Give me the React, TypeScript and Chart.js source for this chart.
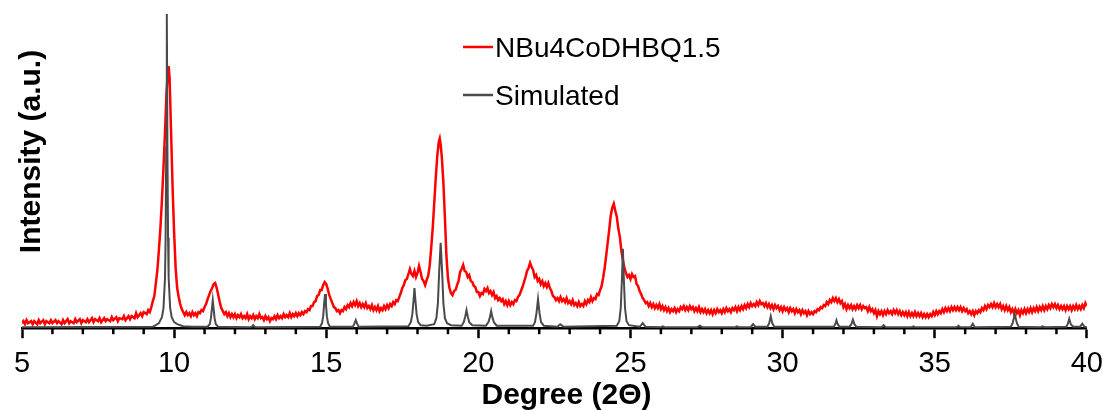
import React, { useEffect, useRef } from "react";
import { Chart, registerables } from "chart.js";

Chart.register(...registerables);

const seriesNames = ["NBu4CoDHBQ1.5", "Simulated"];
const seriesColors = ["#ff0000", "#4a4a4a"];
const xTitle = "Degree (2\u0398)";
const yTitle = "Intensity (a.u.)";
const majorTicks = [5, 10, 15, 20, 25, 30, 35, 40];

// experimental pattern [2θ, intensity]
const experimental: [number, number][] = [
  [5.0, 5], [5.05, 7], [5.1, 4], [5.15, 8], [5.2, 5], [5.3, 7], [5.35, 4], [5.4, 7], [5.5, 4], [5.55, 8],
  [5.6, 5], [5.7, 8], [5.75, 4], [5.8, 7], [5.9, 5], [5.95, 8], [6.0, 5], [6.1, 8], [6.15, 5], [6.2, 7],
  [6.3, 4], [6.35, 8], [6.4, 5], [6.5, 9], [6.55, 5], [6.6, 7], [6.7, 5], [6.75, 9], [6.8, 6], [6.9, 9],
  [6.95, 5], [7.0, 8], [7.1, 6], [7.15, 9], [7.2, 6], [7.3, 10], [7.35, 6], [7.4, 9], [7.5, 7], [7.55, 10],
  [7.6, 6], [7.7, 10], [7.75, 7], [7.8, 9], [7.9, 7], [7.95, 11], [8.0, 8], [8.1, 11], [8.15, 7], [8.2, 10],
  [8.3, 9], [8.35, 12], [8.4, 8], [8.5, 12], [8.55, 9], [8.6, 12], [8.7, 10], [8.75, 15], [8.8, 11],
  [8.9, 15], [8.95, 12], [9.0, 16], [9.1, 14], [9.15, 18], [9.2, 16], [9.25, 21], [9.3, 27], [9.35, 32],
  [9.4, 45], [9.45, 58], [9.5, 78], [9.55, 100], [9.6, 128], [9.65, 160], [9.7, 195], [9.75, 235],
  [9.8, 258], [9.82, 261], [9.85, 250], [9.9, 195], [9.95, 140], [10.0, 95], [10.05, 60], [10.1, 40],
  [10.15, 31], [10.2, 24], [10.25, 19], [10.3, 16], [10.35, 13], [10.4, 16], [10.45, 13], [10.5, 15],
  [10.55, 12], [10.6, 16], [10.65, 13], [10.7, 15], [10.75, 12], [10.8, 16], [10.85, 15], [10.9, 18],
  [10.95, 17], [11.0, 21], [11.05, 24], [11.1, 29], [11.15, 33], [11.2, 37], [11.25, 40], [11.3, 44],
  [11.35, 45], [11.4, 40], [11.45, 33], [11.5, 26], [11.55, 20], [11.6, 17], [11.65, 14], [11.7, 16],
  [11.75, 12], [11.8, 15], [11.85, 11], [11.9, 14], [11.95, 11], [12.0, 14], [12.05, 10], [12.1, 13],
  [12.15, 11], [12.2, 14], [12.25, 10], [12.3, 12], [12.35, 10], [12.4, 14], [12.45, 9], [12.5, 12],
  [12.55, 10], [12.6, 13], [12.65, 9], [12.7, 12], [12.75, 10], [12.8, 14], [12.85, 10], [12.9, 11],
  [12.95, 8], [13.0, 12], [13.05, 9], [13.1, 11], [13.15, 7], [13.2, 10], [13.25, 9], [13.3, 12],
  [13.35, 9], [13.4, 13], [13.45, 10], [13.5, 12], [13.55, 10], [13.6, 14], [13.65, 11], [13.7, 13],
  [13.75, 11], [13.8, 15], [13.85, 11], [13.9, 14], [13.95, 12], [14.0, 15], [14.05, 12], [14.1, 15],
  [14.15, 13], [14.2, 16], [14.25, 14], [14.3, 17], [14.35, 16], [14.4, 19], [14.45, 18], [14.5, 22],
  [14.55, 22], [14.6, 26], [14.65, 27], [14.7, 32], [14.75, 33], [14.8, 38], [14.85, 38], [14.9, 43],
  [14.95, 46], [15.0, 44], [15.05, 39], [15.1, 33], [15.15, 29], [15.2, 25], [15.25, 21], [15.3, 20],
  [15.35, 17], [15.4, 18], [15.45, 15], [15.5, 18], [15.55, 17], [15.6, 21], [15.65, 19], [15.7, 23],
  [15.75, 21], [15.8, 25], [15.85, 22], [15.9, 26], [15.95, 23], [16.0, 27], [16.05, 22], [16.1, 25],
  [16.15, 21], [16.2, 24], [16.25, 21], [16.3, 25], [16.35, 20], [16.4, 22], [16.45, 19], [16.5, 23],
  [16.55, 18], [16.6, 21], [16.65, 18], [16.7, 22], [16.75, 17], [16.8, 20], [16.85, 18], [16.9, 22],
  [16.95, 19], [17.0, 23], [17.05, 20], [17.1, 24], [17.15, 22], [17.2, 26], [17.25, 24], [17.3, 28],
  [17.35, 27], [17.4, 31], [17.45, 35], [17.5, 40], [17.55, 43], [17.6, 48], [17.65, 49], [17.7, 54],
  [17.75, 59], [17.8, 54], [17.85, 52], [17.9, 57], [17.95, 51], [18.0, 55], [18.05, 62], [18.1, 56],
  [18.15, 49], [18.2, 47], [18.25, 43], [18.3, 48], [18.35, 52], [18.4, 62], [18.45, 80], [18.5, 100],
  [18.55, 125], [18.6, 150], [18.65, 172], [18.7, 186], [18.73, 189], [18.76, 183], [18.8, 170],
  [18.85, 145], [18.9, 110], [18.95, 72], [19.0, 50], [19.05, 40], [19.1, 35], [19.15, 33], [19.2, 37],
  [19.25, 38], [19.3, 43], [19.35, 47], [19.4, 56], [19.45, 59], [19.5, 63], [19.55, 57], [19.6, 56],
  [19.65, 51], [19.7, 53], [19.75, 47], [19.8, 46], [19.85, 42], [19.9, 41], [19.95, 36], [20.0, 36],
  [20.05, 32], [20.1, 35], [20.15, 34], [20.2, 39], [20.25, 37], [20.3, 40], [20.35, 35], [20.4, 37],
  [20.45, 33], [20.5, 36], [20.55, 30], [20.6, 32], [20.65, 28], [20.7, 30], [20.75, 27], [20.8, 29],
  [20.85, 24], [20.9, 27], [20.95, 23], [21.0, 27], [21.05, 23], [21.1, 26], [21.15, 24], [21.2, 28],
  [21.25, 27], [21.3, 31], [21.35, 33], [21.4, 37], [21.45, 41], [21.5, 46], [21.55, 51], [21.6, 57],
  [21.65, 60], [21.7, 65], [21.75, 61], [21.8, 58], [21.85, 51], [21.9, 53], [21.95, 47], [22.0, 49],
  [22.05, 44], [22.1, 47], [22.15, 42], [22.2, 45], [22.25, 41], [22.3, 45], [22.35, 40], [22.4, 37],
  [22.45, 32], [22.5, 31], [22.55, 28], [22.6, 30], [22.65, 27], [22.7, 31], [22.75, 27], [22.8, 29],
  [22.85, 26], [22.9, 30], [22.95, 25], [23.0, 27], [23.05, 24], [23.1, 28], [23.15, 23], [23.2, 25],
  [23.25, 22], [23.3, 26], [23.35, 22], [23.4, 24], [23.45, 22], [23.5, 27], [23.55, 24], [23.6, 28],
  [23.65, 26], [23.7, 31], [23.75, 27], [23.8, 30], [23.85, 29], [23.9, 34], [23.95, 33], [24.0, 38],
  [24.05, 42], [24.1, 50], [24.15, 60], [24.2, 72], [24.25, 85], [24.3, 98], [24.35, 112], [24.4, 120],
  [24.45, 124], [24.5, 117], [24.55, 111], [24.6, 99], [24.65, 91], [24.7, 77], [24.75, 68], [24.8, 60],
  [24.85, 55], [24.9, 51], [24.95, 53], [25.0, 49], [25.05, 54], [25.1, 51], [25.15, 52], [25.2, 44],
  [25.25, 42], [25.3, 37], [25.35, 34], [25.4, 30], [25.45, 28], [25.5, 25], [25.55, 26], [25.6, 22],
  [25.65, 25], [25.7, 21], [25.75, 24], [25.8, 20], [25.85, 23], [25.9, 20], [25.95, 24], [26.0, 19],
  [26.05, 22], [26.1, 18], [26.15, 21], [26.2, 17], [26.25, 20], [26.3, 16], [26.35, 19], [26.4, 17],
  [26.45, 20], [26.5, 16], [26.55, 19], [26.6, 17], [26.65, 21], [26.7, 19], [26.75, 22], [26.8, 18],
  [26.85, 21], [26.9, 18], [26.95, 22], [27.0, 19], [27.05, 21], [27.1, 17], [27.15, 20], [27.2, 17],
  [27.25, 21], [27.3, 16], [27.35, 19], [27.4, 16], [27.45, 19], [27.5, 15], [27.55, 18], [27.6, 15],
  [27.65, 18], [27.7, 14], [27.75, 18], [27.8, 15], [27.85, 19], [27.9, 16], [27.95, 18], [28.0, 15],
  [28.05, 19], [28.1, 16], [28.15, 20], [28.2, 17], [28.25, 19], [28.3, 16], [28.35, 20], [28.4, 18],
  [28.45, 21], [28.5, 17], [28.55, 21], [28.6, 18], [28.65, 22], [28.7, 19], [28.75, 23], [28.8, 20],
  [28.85, 24], [28.9, 21], [28.95, 25], [29.0, 22], [29.05, 24], [29.1, 22], [29.15, 26], [29.2, 23],
  [29.25, 27], [29.3, 24], [29.35, 25], [29.4, 22], [29.45, 25], [29.5, 21], [29.55, 24], [29.6, 20],
  [29.65, 23], [29.7, 19], [29.75, 23], [29.8, 20], [29.85, 22], [29.9, 18], [29.95, 21], [30.0, 17],
  [30.05, 21], [30.1, 18], [30.15, 20], [30.2, 16], [30.25, 20], [30.3, 17], [30.35, 19], [30.4, 15],
  [30.45, 19], [30.5, 16], [30.55, 18], [30.6, 14], [30.65, 18], [30.7, 15], [30.75, 17], [30.8, 13],
  [30.85, 17], [30.9, 14], [30.95, 16], [31.0, 14], [31.05, 17], [31.1, 16], [31.15, 19], [31.2, 18],
  [31.25, 21], [31.3, 20], [31.35, 23], [31.4, 22], [31.45, 26], [31.5, 24], [31.55, 28], [31.6, 26],
  [31.65, 30], [31.7, 27], [31.75, 30], [31.8, 26], [31.85, 29], [31.9, 25], [31.95, 27], [32.0, 21],
  [32.05, 24], [32.1, 19], [32.15, 23], [32.2, 20], [32.25, 23], [32.3, 19], [32.35, 22], [32.4, 19],
  [32.45, 23], [32.5, 20], [32.55, 23], [32.6, 19], [32.65, 22], [32.7, 20], [32.75, 21], [32.8, 17],
  [32.85, 21], [32.9, 17], [32.95, 19], [33.0, 15], [33.05, 18], [33.1, 12], [33.15, 17], [33.2, 14],
  [33.25, 17], [33.3, 13], [33.35, 17], [33.4, 14], [33.45, 18], [33.5, 15], [33.55, 17], [33.6, 14],
  [33.65, 18], [33.7, 15], [33.75, 18], [33.8, 14], [33.85, 17], [33.9, 13], [33.95, 16], [34.0, 13],
  [34.05, 16], [34.1, 12], [34.15, 16], [34.2, 12], [34.25, 15], [34.3, 12], [34.35, 16], [34.4, 12],
  [34.45, 15], [34.5, 12], [34.55, 15], [34.6, 11], [34.65, 14], [34.7, 11], [34.75, 14], [34.8, 11],
  [34.85, 14], [34.9, 12], [34.95, 16], [35.0, 13], [35.05, 17], [35.1, 14], [35.15, 17], [35.2, 15],
  [35.25, 19], [35.3, 16], [35.35, 20], [35.4, 17], [35.45, 20], [35.5, 17], [35.55, 21], [35.6, 18],
  [35.65, 21], [35.7, 18], [35.75, 21], [35.8, 18], [35.85, 21], [35.9, 17], [35.95, 20], [36.0, 17],
  [36.05, 19], [36.1, 15], [36.15, 17], [36.2, 14], [36.25, 17], [36.3, 13], [36.35, 17], [36.4, 15],
  [36.45, 18], [36.5, 16], [36.55, 20], [36.6, 18], [36.65, 22], [36.7, 19], [36.75, 23], [36.8, 21],
  [36.85, 24], [36.9, 21], [36.95, 25], [37.0, 21], [37.05, 24], [37.1, 21], [37.15, 24], [37.2, 19],
  [37.25, 22], [37.3, 18], [37.35, 22], [37.4, 18], [37.45, 21], [37.5, 16], [37.55, 19], [37.6, 15],
  [37.65, 19], [37.7, 15], [37.75, 18], [37.8, 13], [37.85, 18], [37.9, 15], [37.95, 19], [38.0, 15],
  [38.05, 19], [38.1, 16], [38.15, 20], [38.2, 16], [38.25, 20], [38.3, 17], [38.35, 21], [38.4, 17],
  [38.45, 21], [38.5, 18], [38.55, 22], [38.6, 18], [38.65, 22], [38.7, 19], [38.75, 23], [38.8, 20],
  [38.85, 24], [38.9, 21], [38.95, 24], [39.0, 20], [39.05, 23], [39.1, 19], [39.15, 22], [39.2, 19],
  [39.25, 22], [39.3, 18], [39.35, 22], [39.4, 19], [39.45, 22], [39.5, 18], [39.55, 22], [39.6, 19],
  [39.65, 23], [39.7, 19], [39.75, 22], [39.8, 19], [39.85, 23], [39.9, 20], [39.95, 25], [40.0, 22],
];

// simulated pattern [2θ, intensity]
const simulated: [number, number][] = [
  [5, 1], [9.3, 1.5], [9.4, 3], [9.5, 5], [9.6, 11], [9.65, 20], [9.7, 50], [9.72, 90], [9.74, 180],
  [9.76, 313], [9.78, 180], [9.8, 90], [9.82, 50], [9.87, 20], [9.92, 11], [10.0, 6], [10.1, 4],
  [10.3, 2], [10.6, 1.5], [11.1, 1.5], [11.17, 4], [11.21, 10], [11.24, 19], [11.27, 28], [11.3, 19],
  [11.33, 10], [11.37, 4], [11.45, 1.5], [12.5, 1], [12.56, 1.5], [12.6, 3], [12.64, 1.5], [12.7, 1],
  [14.8, 1.5], [14.86, 5], [14.9, 12], [14.93, 24], [14.96, 34], [14.99, 24], [15.02, 12], [15.06, 5],
  [15.12, 1.5], [15.87, 1.5], [15.92, 4], [15.97, 8], [16.02, 4], [16.07, 1.5], [17.7, 2], [17.78, 6],
  [17.83, 14], [17.87, 28], [17.9, 40], [17.93, 28], [17.97, 14], [18.02, 6], [18.1, 3], [18.3, 2.5],
  [18.55, 4], [18.62, 10], [18.67, 25], [18.71, 55], [18.76, 85], [18.81, 55], [18.85, 25], [18.9, 10],
  [18.97, 5], [19.1, 3], [19.45, 2.5], [19.52, 6], [19.57, 12], [19.61, 18], [19.65, 12], [19.7, 6],
  [19.8, 3], [20.25, 2.5], [20.33, 6], [20.38, 11], [20.42, 17], [20.46, 11], [20.51, 6], [20.6, 2.5],
  [21.8, 2.5], [21.86, 6], [21.91, 15], [21.96, 29], [22.01, 15], [22.06, 6], [22.15, 2.5], [22.6, 1.5],
  [22.65, 3], [22.69, 4], [22.73, 3], [22.8, 1.5], [24.55, 2.5], [24.63, 7], [24.68, 20], [24.72, 50],
  [24.75, 79], [24.78, 50], [24.82, 20], [24.87, 7], [24.95, 3], [25.3, 1.5], [25.35, 3], [25.4, 5],
  [25.45, 3], [25.5, 1.5], [26.0, 1], [26.06, 1.8], [26.12, 1], [27.2, 1], [27.28, 2.5], [27.36, 1],
  [28.45, 1], [28.5, 1.8], [28.55, 1], [28.95, 1], [29.03, 4], [29.1, 1.5], [29.5, 1.5], [29.56, 5],
  [29.61, 12], [29.66, 5], [29.72, 1.5], [31.68, 1.5], [31.73, 4], [31.77, 8], [31.81, 4], [31.87, 1.5],
  [32.2, 1.5], [32.26, 4], [32.31, 8.5], [32.36, 4], [32.42, 1.5], [33.25, 1], [33.32, 3], [33.39, 1],
  [34.25, 1], [34.3, 1.8], [34.35, 1], [35.72, 1], [35.78, 2.5], [35.84, 1], [36.18, 1], [36.25, 4.5],
  [36.32, 1], [37.5, 1.5], [37.56, 5], [37.63, 14], [37.7, 5], [37.76, 1.5], [38.48, 1], [38.54, 1.8],
  [38.6, 1], [39.32, 1.5], [39.37, 4], [39.42, 9.5], [39.47, 4], [39.55, 1.5], [39.78, 1.5],
  [39.85, 4.5], [39.92, 1.5], [40, 1],
];

const FONT = "'Liberation Sans', Arial, sans-serif";

const decorPlugin = {
  id: "decor",
  afterDraw(chart: any) {
    const ctx = chart.ctx as CanvasRenderingContext2D;
    const xs = chart.scales.x;
    const bottom = chart.chartArea.bottom;
    ctx.save();
    // minor ticks
    ctx.strokeStyle = "#000";
    ctx.lineWidth = 2.5;
    for (let v = 6; v < 40; v++) {
      if (majorTicks.includes(v)) continue;
      const px = xs.getPixelForValue(v);
      ctx.beginPath();
      ctx.moveTo(px, bottom);
      ctx.lineTo(px, bottom + 6);
      ctx.stroke();
    }
    // y title
    ctx.fillStyle = "#000";
    ctx.font = `bold 30px ${FONT}`;
    ctx.textAlign = "center";
    ctx.textBaseline = "alphabetic";
    ctx.save();
    ctx.translate(40, 151.5);
    ctx.rotate(-Math.PI / 2);
    ctx.fillText(yTitle, 0, 0);
    ctx.restore();
    // x title
    ctx.fillText(xTitle, 566.5, 404);
    // legend
    ctx.font = `28px ${FONT}`;
    ctx.textAlign = "left";
    const rows = [47, 95];
    seriesNames.forEach((name, i) => {
      const y = rows[i];
      ctx.strokeStyle = seriesColors[i];
      ctx.lineWidth = 2.5;
      ctx.beginPath();
      ctx.moveTo(463, y);
      ctx.lineTo(493, y);
      ctx.stroke();
      ctx.fillStyle = "#000";
      ctx.fillText(name, 495, y + 9.5);
    });
    ctx.restore();
  },
};

export default function App() {
  const ref = useRef<HTMLCanvasElement | null>(null);
  useEffect(() => {
    if (!ref.current) return;
    const chart = new Chart(ref.current, {
      type: "line",
      data: {
        datasets: [
          {
            label: seriesNames[0],
            data: experimental.map(([x, y]) => ({ x, y })),
            borderColor: seriesColors[0],
            borderWidth: 2.5,
            pointRadius: 0,
            tension: 0,
            order: 1,
          },
          {
            label: seriesNames[1],
            data: simulated.map(([x, y]) => ({ x, y })),
            borderColor: seriesColors[1],
            borderWidth: 2,
            pointRadius: 0,
            tension: 0,
            order: 0,
          },
        ],
      },
      plugins: [decorPlugin],
      options: {
        responsive: false,
        animation: false,
        layout: { padding: { left: 22, right: 21.5, top: 12, bottom: 21 } },
        plugins: { legend: { display: false }, tooltip: { enabled: false } },
        scales: {
          x: {
            type: "linear",
            min: 5,
            max: 40,
            border: { display: true, color: "#000", width: 2.5 },
            grid: {
              drawOnChartArea: false,
              drawTicks: true,
              tickLength: 10,
              tickWidth: 2.5,
              tickColor: (c: any) => (majorTicks.includes(c.tick?.value) ? "#000" : "rgba(0,0,0,0)"),
            },
            ticks: {
              stepSize: 1,
              autoSkip: false,
              maxRotation: 0,
              padding: 8,
              color: "#000",
              font: { family: FONT, size: 29 },
              callback: (v: any) => (majorTicks.includes(Number(v)) ? String(v) : ""),
            },
          },
          y: { display: false, min: 0, max: 315 },
        },
      },
    });
    return () => chart.destroy();
  }, []);
  return (
    <div style={{ position: "fixed", left: 0, top: 0, width: 1111, height: 410, background: "#fff" }}>
      <canvas ref={ref} width={1111} height={410} style={{ display: "block" }} />
    </div>
  );
}
